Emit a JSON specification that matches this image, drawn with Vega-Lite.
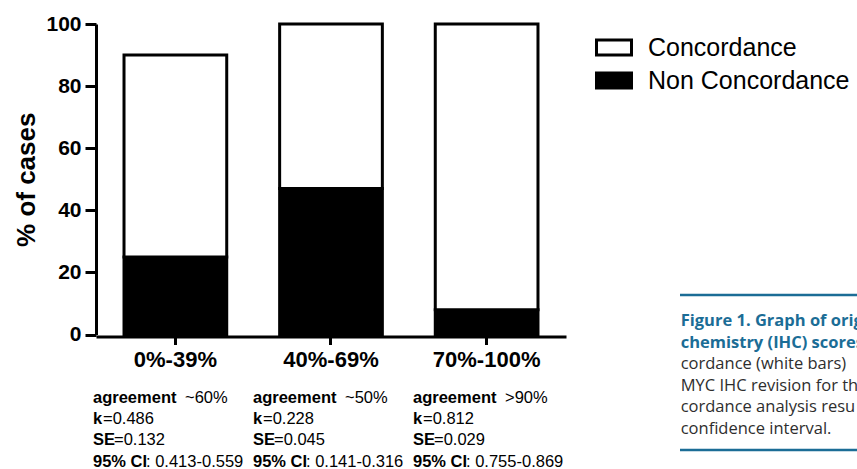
{
  "$schema": "https://vega.github.io/schema/vega-lite/v6.json",
  "width": 470,
  "height": 310.5,
  "autosize": {"type": "none"},
  "padding": {"left": 96, "top": 24, "right": 291, "bottom": 134.5},
  "background": "white",
  "config": {
    "view": {"stroke": null},
    "font": "Liberation Sans",
    "axis": {"domainColor": "black", "tickColor": "black", "labelColor": "black", "titleColor": "black", "grid": false}
  },
  "datasets": {
    "bars": [
      {"range": "0%-39%", "status": "Non Concordance", "pct": 25},
      {"range": "0%-39%", "status": "Concordance", "pct": 65},
      {"range": "40%-69%", "status": "Non Concordance", "pct": 47},
      {"range": "40%-69%", "status": "Concordance", "pct": 53},
      {"range": "70%-100%", "status": "Non Concordance", "pct": 8},
      {"range": "70%-100%", "status": "Concordance", "pct": 92}
    ],
    "notes": [
      {"range": "0%-39%", "line": 1, "label": "agreement", "value": "~60%"},
      {"range": "0%-39%", "line": 2, "label": "k", "value": "=0.486"},
      {"range": "0%-39%", "line": 3, "label": "SE", "value": "=0.132"},
      {"range": "0%-39%", "line": 4, "label": "95% CI", "value": ": 0.413-0.559"},
      {"range": "40%-69%", "line": 1, "label": "agreement", "value": "~50%"},
      {"range": "40%-69%", "line": 2, "label": "k", "value": "=0.228"},
      {"range": "40%-69%", "line": 3, "label": "SE", "value": "=0.045"},
      {"range": "40%-69%", "line": 4, "label": "95% CI", "value": ": 0.141-0.316"},
      {"range": "70%-100%", "line": 1, "label": "agreement", "value": ">90%"},
      {"range": "70%-100%", "line": 2, "label": "k", "value": "=0.812"},
      {"range": "70%-100%", "line": 3, "label": "SE", "value": "=0.029"},
      {"range": "70%-100%", "line": 4, "label": "95% CI", "value": ": 0.755-0.869"}
    ],
    "caption": [
      {"line": 1, "kind": "title", "text": "Figure 1. Graph of orig"},
      {"line": 2, "kind": "title", "text": "chemistry (IHC) scores"},
      {"line": 3, "kind": "body", "text": "cordance  (white  bars)"},
      {"line": 4, "kind": "body", "text": "MYC IHC revision for th"},
      {"line": 5, "kind": "body", "text": "cordance analysis resu"},
      {"line": 6, "kind": "body", "text": "confidence interval."}
    ],
    "rules": [
      {"edge": "top"},
      {"edge": "bottom"}
    ]
  },
  "layer": [
    {
      "data": {"name": "bars"},
      "mark": {"type": "bar", "stroke": "black", "strokeWidth": 3},
      "encoding": {
        "x": {
          "field": "range", "type": "nominal", "sort": ["0%-39%", "40%-69%", "70%-100%"],
          "scale": {"paddingInner": 0.34, "paddingOuter": 0.18},
          "axis": {"title": null, "labelAngle": 0, "domainWidth": 3, "tickWidth": 3, "tickSize": 8, "offset": 2,
                   "labelFontSize": 22, "labelFontWeight": "bold", "labelPadding": 5}
        },
        "y": {
          "field": "pct", "type": "quantitative", "stack": "zero",
          "scale": {"domain": [0, 100], "nice": false},
          "axis": {"title": "% of cases", "values": [0, 20, 40, 60, 80, 100], "domainWidth": 3, "tickWidth": 3, "tickSize": 11,
                   "labelFontSize": 21, "labelFontWeight": "bold", "labelPadding": 4,
                   "titleFontSize": 26, "titleFontWeight": "bold", "titlePadding": 6}
        },
        "fill": {
          "field": "status", "type": "nominal",
          "scale": {"domain": ["Concordance", "Non Concordance"], "range": ["white", "black"]},
          "legend": {
            "title": null, "orient": "none", "legendX": 499, "legendY": 4.5, "padding": 0,
            "symbolType": "M-1,-0.43H1V0.43H-1Z", "symbolSize": 1225,
            "symbolStrokeColor": "black", "symbolStrokeWidth": 3,
            "labelFontSize": 25, "labelFont": "Liberation Sans", "labelColor": "black",
            "labelOffset": 15, "rowPadding": 0, "labelLimit": 400
          }
        },
        "order": {"field": "status", "sort": "descending"}
      }
    },
    {
      "data": {"name": "notes"},
      "mark": {"type": "text", "align": "left", "baseline": "alphabetic", "fontWeight": "bold", "fontSize": 16.5, "color": "black"},
      "encoding": {
        "x": {"field": "range", "type": "nominal", "scale": {"type": "point", "domain": ["0%-39%", "40%-69%", "70%-100%"], "range": [-3, 317], "padding": 0}, "axis": null},
        "y": {"field": "line", "type": "ordinal", "scale": {"type": "point", "domain": [1, 2, 3, 4], "range": [378.5, 442.5], "padding": 0}, "axis": null},
        "text": {"field": "label"}
      }
    },
    {
      "data": {"name": "notes"},
      "transform": [{"filter": "datum.line == 1"}],
      "mark": {"type": "text", "align": "left", "baseline": "alphabetic", "fontSize": 16.5, "color": "black", "dx": 92},
      "encoding": {
        "x": {"field": "range", "type": "nominal", "scale": {"type": "point", "domain": ["0%-39%", "40%-69%", "70%-100%"], "range": [-3, 317], "padding": 0}, "axis": null},
        "y": {"field": "line", "type": "ordinal", "scale": {"type": "point", "domain": [1, 2, 3, 4], "range": [378.5, 442.5], "padding": 0}, "axis": null},
        "text": {"field": "value"}
      }
    },
    {
      "data": {"name": "notes"},
      "transform": [{"filter": "datum.line == 2"}],
      "mark": {"type": "text", "align": "left", "baseline": "alphabetic", "fontSize": 16.5, "color": "black", "dx": 10},
      "encoding": {
        "x": {"field": "range", "type": "nominal", "scale": {"type": "point", "domain": ["0%-39%", "40%-69%", "70%-100%"], "range": [-3, 317], "padding": 0}, "axis": null},
        "y": {"field": "line", "type": "ordinal", "scale": {"type": "point", "domain": [1, 2, 3, 4], "range": [378.5, 442.5], "padding": 0}, "axis": null},
        "text": {"field": "value"}
      }
    },
    {
      "data": {"name": "notes"},
      "transform": [{"filter": "datum.line == 3"}],
      "mark": {"type": "text", "align": "left", "baseline": "alphabetic", "fontSize": 16.5, "color": "black", "dx": 21},
      "encoding": {
        "x": {"field": "range", "type": "nominal", "scale": {"type": "point", "domain": ["0%-39%", "40%-69%", "70%-100%"], "range": [-3, 317], "padding": 0}, "axis": null},
        "y": {"field": "line", "type": "ordinal", "scale": {"type": "point", "domain": [1, 2, 3, 4], "range": [378.5, 442.5], "padding": 0}, "axis": null},
        "text": {"field": "value"}
      }
    },
    {
      "data": {"name": "notes"},
      "transform": [{"filter": "datum.line == 4"}],
      "mark": {"type": "text", "align": "left", "baseline": "alphabetic", "fontSize": 16.5, "color": "black", "dx": 53},
      "encoding": {
        "x": {"field": "range", "type": "nominal", "scale": {"type": "point", "domain": ["0%-39%", "40%-69%", "70%-100%"], "range": [-3, 317], "padding": 0}, "axis": null},
        "y": {"field": "line", "type": "ordinal", "scale": {"type": "point", "domain": [1, 2, 3, 4], "range": [378.5, 442.5], "padding": 0}, "axis": null},
        "text": {"field": "value"}
      }
    },
    {
      "data": {"name": "rules"},
      "mark": {"type": "rule", "stroke": "#1b6d96", "strokeWidth": 2.5},
      "encoding": {
        "x": {"datum": 0, "type": "quantitative", "scale": {"domain": [0, 1], "range": [584, 770], "nice": false, "zero": false}, "axis": null},
        "x2": {"datum": 1},
        "y": {"field": "edge", "type": "nominal", "scale": {"type": "point", "domain": ["top", "bottom"], "range": [271, 426], "padding": 0}, "axis": null}
      }
    },
    {
      "data": {"name": "caption"},
      "transform": [{"filter": "datum.kind == 'title'"}],
      "mark": {"type": "text", "align": "left", "baseline": "alphabetic", "font": "Open Sans", "fontWeight": "bold", "fontSize": 16.5, "color": "#1b6d96"},
      "encoding": {
        "x": {"datum": 0, "type": "quantitative", "scale": {"domain": [0, 1], "range": [584.7, 770], "nice": false, "zero": false}, "axis": null},
        "y": {"field": "line", "type": "ordinal", "scale": {"type": "point", "domain": [1, 2, 3, 4, 5, 6], "range": [302, 409.5], "padding": 0}, "axis": null},
        "text": {"field": "text"}
      }
    },
    {
      "data": {"name": "caption"},
      "transform": [{"filter": "datum.kind == 'body'"}],
      "mark": {"type": "text", "align": "left", "baseline": "alphabetic", "font": "Open Sans", "fontSize": 16.5, "color": "#2e2e2e"},
      "encoding": {
        "x": {"datum": 0, "type": "quantitative", "scale": {"domain": [0, 1], "range": [584.7, 770], "nice": false, "zero": false}, "axis": null},
        "y": {"field": "line", "type": "ordinal", "scale": {"type": "point", "domain": [1, 2, 3, 4, 5, 6], "range": [302, 409.5], "padding": 0}, "axis": null},
        "text": {"field": "text"}
      }
    }
  ],
  "resolve": {"scale": {"x": "independent", "y": "independent"}}
}
